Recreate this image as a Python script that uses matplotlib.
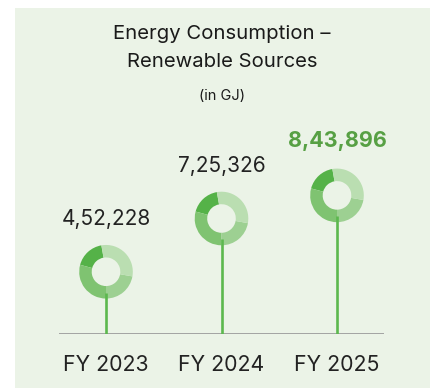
import matplotlib.pyplot as plt
from matplotlib.patches import Rectangle, Wedge
from matplotlib import transforms

plt.rcParams['font.family'] = ['Inter', 'DejaVu Sans']

# datos
anios = ["FY 2023", "FY 2024", "FY 2025"]
valores = [452228, 725326, 843896]
etiquetas = ["4,52,228", "7,25,326", "8,43,896"]

fondo = '#ebf3e7'
verde_tallo = '#5cb84e'
# colores de los segmentos del anillo (angulo inicio, angulo fin, color)
segmentos = [(100, 165, '#55b248'),
             (165, 270, '#7fc371'),
             (270, 350, '#9dd092'),
             (-10, 100, '#badeb1')]

fig = plt.figure(figsize=(4.3, 3.88), dpi=100)
fig.patch.set_facecolor('white')
fig.patches.append(Rectangle((15 / 430, 0), 1, 1 - 8 / 388, transform=fig.transFigure,
                             facecolor=fondo, edgecolor='none', zorder=-5))

ax = fig.add_axes([59 / 430, 54 / 388, 325 / 430, 234 / 388])
ax.set_facecolor('none')
ax.set_xlim(-0.407, 2.407)
base = 133000
tope = 1333000
ax.set_ylim(base, tope)
for s in ax.spines.values():
    s.set_visible(False)
ax.set_xticks([])
ax.set_yticks([])

ax.axhline(base, color='#a3a3a3', lw=1.4, zorder=2)

# unidades de datos por pixel
px = (tope - base) / 234.0
radio = 0.268
ancho = 0.125

for i, v in enumerate(valores):
    # tallo
    ax.plot([i, i], [base, v - 21 * px], color=verde_tallo, lw=1.9,
            solid_capstyle='butt', zorder=4)
    # anillo
    tr = fig.dpi_scale_trans + transforms.ScaledTranslation(i, v, ax.transData)
    for a1, a2, c in segmentos:
        ax.add_patch(Wedge((0, 0), radio, a1, a2, width=ancho, facecolor=c,
                           edgecolor='none', transform=tr, zorder=3))
    # valor
    if i == len(valores) - 1:
        ax.annotate(etiquetas[i], (i, v), xytext=(0, 39), textcoords='offset points',
                    ha='center', va='center', fontsize=15.5, fontweight='bold',
                    color='#57a044')
    else:
        ax.annotate(etiquetas[i], (i, v), xytext=(0, 38), textcoords='offset points',
                    ha='center', va='center', fontsize=15, color='#222222')
    # etiqueta de eje x
    ax.text(i, base - 31 * px, anios[i], ha='center', va='center',
            fontsize=15.3, color='#222222', clip_on=False)

fig.text(222 / 430, 1 - 34 / 388, "Energy Consumption –", ha='center', va='center',
         fontsize=14.6, color='#1a1a1a')
fig.text(222 / 430, 1 - 62 / 388, "Renewable Sources", ha='center', va='center',
         fontsize=14.6, color='#1a1a1a')
fig.text(222 / 430, 1 - 96 / 388, "(in GJ)", ha='center', va='center',
         fontsize=10.5, color='#1a1a1a')

fig.savefig('out.png', dpi=100, facecolor=fig.get_facecolor())
